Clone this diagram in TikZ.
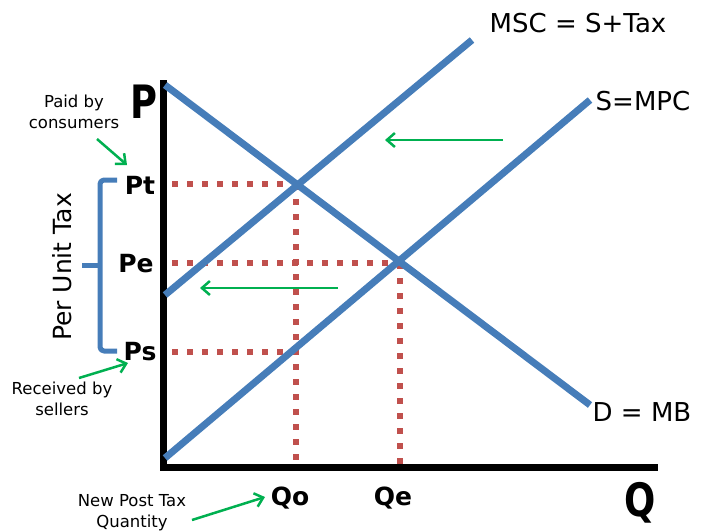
\documentclass[tikz,border=0pt]{standalone}
\usepackage{fontspec}
\setmainfont{DejaVu Sans}
\usetikzlibrary{arrows.meta}
\definecolor{curve}{RGB}{70,125,185}
\definecolor{dotc}{RGB}{192,80,77}
\definecolor{arrg}{RGB}{0,176,80}
\begin{document}
\begin{tikzpicture}[x=1pt,y=-1pt,
  axis/.style={line width=7pt},
  curveline/.style={curve,line width=7pt},
  dots/.style={dotc,line width=6pt,dash pattern=on 6pt off 9pt},
  garrow/.style={arrg,line width=2.5pt,-{Straight Barb[length=8pt,width=14pt,line width=2.5pt]}},
  big/.style={font=\fontsize{46}{48}\selectfont\bfseries,xscale=0.8},
  plab/.style={font=\fontsize{25}{27}\selectfont\bfseries},
  clab/.style={font=\fontsize{26}{28}\selectfont},
  small/.style={font=\fontsize{16.5}{21}\selectfont,align=center,inner sep=1pt},
  brace/.style={curve,line width=5pt,line join=round,rounded corners=4pt}]
\useasboundingbox (0,0) rectangle (703,531);
% axes
\coordinate (otop) at (163,80);
\coordinate (o) at (163,467);
\coordinate (qend) at (658,467);
\draw[axis] (otop) -- (o) -- (qend);
% dotted guides
\coordinate (pt) at (172,184); \coordinate (ptx) at (296,184); \coordinate (qo) at (296,467);
\coordinate (pe) at (172,263); \coordinate (pex) at (400,263); \coordinate (qe) at (400,467);
\coordinate (ps) at (172,352); \coordinate (psx) at (296,352);
\draw[dots] (pt) -- (ptx);
\draw[dots] (ptx) -- (qo);
\draw[dots] (pe) -- (pex);
\draw[dots] (pex) -- (qe);
\draw[dots] (ps) -- (psx);
% curves
\coordinate (d1) at (165,85); \coordinate (d2) at (590,405);
\coordinate (s1) at (165,458); \coordinate (s2) at (590,100);
\coordinate (m1) at (165,295); \coordinate (m2) at (472,40);
\draw[curveline] (d1) -- (d2);
\draw[curveline] (s1) -- (s2);
\draw[curveline] (m1) -- (m2);
% shift arrows
\coordinate (a1s) at (503,140); \coordinate (a1e) at (385,140);
\coordinate (a2s) at (338,288); \coordinate (a2e) at (200,288);
\draw[garrow] (a1s) -- (a1e);
\draw[garrow] (a2s) -- (a2e);
% labels
\node[big] (P) at (144,102) {P};
\node[big] (Q) at (640,503) {Q};
\node[plab] (Pt) at (140,185) {Pt};
\node[plab] (Pe) at (136,264) {Pe};
\node[plab] (Ps) at (140,352) {Ps};
\node[plab] (Qo) at (290,498) {Qo};
\node[plab] (Qe) at (393,498) {Qe};
\node[clab] (msc) at (578,23) {MSC = S+Tax};
\node[clab] (mpc) at (643,101) {S=MPC};
\node[clab] (mb) at (642,412) {D = MB};
\node[small] (paid) at (74,112) {Paid by\\consumers};
\node[small] (recv) at (62,399) {Received by\\sellers};
\node[small] (npt) at (132,513) {New Post Tax\\Quantity};
\node[rotate=90,font=\fontsize{25}{27}\selectfont] (put) at (62,267) {Per Unit Tax};
% brace
\coordinate (b1) at (117,180); \coordinate (b2) at (100,180);
\coordinate (b3) at (100,351); \coordinate (b4) at (117,351);
\coordinate (bm) at (100,265); \coordinate (bt) at (82,265);
\draw[brace] (b1) -- (b2) -- (b3) -- (b4);
\draw[brace] (bm) -- (bt);
% pointer arrows
\coordinate (pa1) at (97,139); \coordinate (pa2) at (127,165);
\coordinate (ra1) at (79,378); \coordinate (ra2) at (128,363);
\coordinate (na1) at (192,520); \coordinate (na2) at (265,497);
\draw[garrow] (pa1) -- (pa2);
\draw[garrow] (ra1) -- (ra2);
\draw[garrow] (na1) -- (na2);
\end{tikzpicture}
\end{document}
